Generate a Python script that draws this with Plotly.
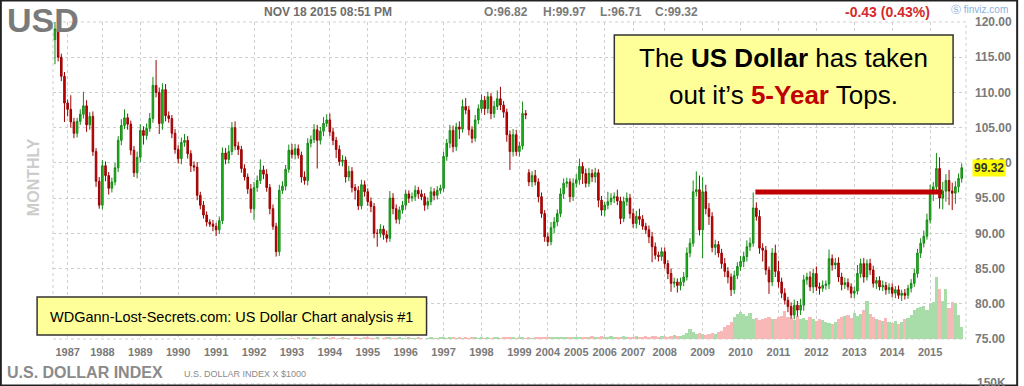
import plotly.graph_objects as go

# ---------------- data ----------------
year_labels = ["1987", "1988", "1989", "1990", "1991", "1992", "1993", "1994", "1995",
               "1996", "1997", "1998", "1999", "2004", "2005", "2006", "2007", "2008",
               "2009", "2010", "2011", "2012", "2013", "2014", "2015"]
year_slots = [4, 15, 27, 39, 51, 63, 75, 87, 99, 111, 123, 135, 147,
              156, 165, 174, 183, 193, 205, 217, 229, 241, 253, 265, 277]

price_ticks = [75, 80, 85, 90, 95, 100, 105, 110, 115, 120]

# segment A: late 1986 .. early 1999 (slots 0-149)
open_a_first = 117.5
close_a = [
    119.0, 115.0, 112.3, 108.5,
    107.6, 105.8, 104.2, 105.9, 106.9, 108.1, 105.4, 106.6, 101.6, 97.4, 94.0,
    99.6, 98.2, 96.4, 97.3, 99.3, 103.2, 105.3, 106.4, 105.5, 101.8, 98.6, 100.8,
    104.6, 103.9, 104.9, 106.3, 111.0, 110.0, 105.6, 110.4, 106.7, 106.3, 104.2, 101.9,
    100.6, 102.9, 103.2, 101.3, 99.6, 99.4, 95.4, 94.0, 92.6, 91.6, 91.3, 91.0,
    90.5, 91.8, 101.4, 100.5, 101.6, 105.0, 102.4, 101.9, 99.2, 98.0, 96.3, 93.5,
    96.5, 97.5, 99.0, 98.4, 96.5, 93.5, 91.0, 87.4, 96.1, 96.7, 99.1, 101.8,
    101.2, 102.0, 101.1, 98.0, 97.5, 102.8, 103.3, 104.7, 103.2, 104.5, 105.6, 106.1,
    104.4, 103.2, 101.9, 100.2, 100.4, 98.0, 98.8, 96.5, 96.1, 93.9, 96.9, 95.9,
    94.5, 93.8, 90.0, 90.0, 90.6, 89.8, 89.3, 95.0, 93.5, 92.0, 93.3, 94.0,
    95.6, 95.0, 95.2, 96.1, 95.6, 95.2, 94.0, 94.5, 95.9, 95.4, 96.1, 96.4,
    100.9, 102.8, 104.6, 102.3, 105.1, 104.8, 108.0, 107.5, 104.7, 103.5, 106.1, 107.7,
    108.9, 107.7, 109.4, 107.0, 108.0, 109.1, 108.2, 107.2, 104.0, 101.6, 104.0, 101.6,
    102.4, 107.0, 106.8,
]
up_a = [
    1.0, 0.8, 0.5, 0.6,
    0.5, 2.0, 0.6, 0.5, 0.7, 2.0, 0.8, 0.6, 0.7, 0.5, 0.6,
    0.8, 0.6, 0.5, 0.6, 0.7, 0.6, 0.9, 1.2, 0.6, 0.5, 0.6, 0.8,
    0.9, 0.6, 0.7, 0.8, 1.2, 3.6, 0.7, 0.9, 0.8, 0.6, 0.5, 0.6,
    0.6, 0.7, 0.9, 0.6, 0.5, 0.6, 0.7, 0.5, 0.6, 0.5, 0.4, 0.6,
    0.5, 0.6, 0.8, 0.7, 0.9, 0.8, 0.9, 0.6, 0.5, 0.6, 0.5, 0.7,
    0.8, 0.7, 1.5, 0.6, 0.7, 0.5, 0.6, 0.5, 0.8, 0.7, 0.6, 0.8,
    0.9, 0.7, 0.6, 0.5, 0.8, 0.7, 0.6, 0.8, 0.7, 0.6, 0.9, 0.8,
    0.9, 0.6, 0.5, 0.6, 0.7, 0.5, 0.8, 0.6, 0.5, 0.6, 0.7, 0.6,
    0.5, 0.6, 0.5, 0.6, 0.7, 0.5, 0.6, 1.0, 0.7, 0.6, 0.5, 0.6,
    0.6, 0.5, 0.6, 0.7, 0.5, 0.6, 0.5, 0.6, 0.7, 0.5, 0.6, 0.5,
    0.7, 0.6, 0.8, 0.7, 0.6, 0.8, 1.0, 1.2, 0.6, 0.5, 0.7, 0.6,
    0.8, 0.6, 0.7, 0.5, 0.8, 1.2, 1.7, 0.6, 0.5, 0.6, 0.8, 0.7,
    0.6, 1.7, 0.5,
]
dn_a = [
    3.5, 0.6, 0.7, 2.7,
    1.0, 0.8, 0.7, 0.6, 0.5, 0.6, 1.0, 0.7, 0.6, 0.8, 0.5,
    0.6, 0.8, 0.9, 0.6, 0.5, 0.6, 0.7, 0.5, 0.8, 0.7, 0.6, 0.8,
    0.7, 1.3, 0.6, 0.5, 0.6, 0.7, 1.5, 0.9, 0.8, 0.6, 0.7, 0.6,
    0.7, 0.8, 0.6, 0.7, 0.9, 0.6, 0.7, 0.6, 0.5, 0.6, 0.4, 0.7,
    0.9, 0.6, 0.5, 0.7, 0.6, 0.5, 0.6, 0.8, 0.6, 0.5, 0.7, 0.6,
    1.6, 0.6, 0.5, 0.7, 0.6, 0.8, 0.5, 0.7, 0.6, 0.5, 0.6, 0.5,
    0.6, 0.7, 0.5, 0.8, 0.6, 0.7, 0.6, 0.5, 4.0, 0.6, 0.7, 0.5,
    0.6, 0.7, 1.2, 0.6, 0.7, 0.8, 0.6, 0.7, 1.3, 0.6, 0.5, 0.7,
    0.6, 0.8, 0.7, 1.9, 0.6, 0.7, 0.6, 0.5, 0.8, 0.6, 0.7, 0.5,
    0.6, 0.7, 0.5, 0.6, 0.7, 0.5, 0.8, 0.6, 0.5, 0.7, 0.6, 0.5,
    0.5, 0.6, 0.7, 0.8, 0.6, 1.4, 0.5, 0.6, 0.8, 0.7, 0.5, 0.6,
    0.6, 0.9, 0.7, 0.8, 0.6, 0.5, 0.7, 0.8, 1.0, 2.6, 0.7, 0.6,
    0.7, 0.5, 0.6,
]

# segment B: 2003 .. Nov 2015 (slots 150-287)
open_b_first = 98.6
close_b = [
    97.3, 98.2, 97.3, 95.2, 92.8, 89.5,
    88.8, 90.8, 91.6, 92.8, 95.6, 97.1, 97.3, 95.2, 97.1,
    97.6, 99.5, 98.5, 97.1, 98.5, 98.0, 98.6, 94.7, 93.3,
    94.0, 94.5, 95.0, 95.2, 94.6, 92.1, 94.5, 95.0, 92.8,
    91.4, 92.4, 92.0, 91.0, 90.5, 89.5, 88.1, 86.9, 86.7, 87.4,
    85.7, 84.3, 82.9, 83.1, 82.6, 83.1, 83.8, 87.2, 88.6, 95.9, 96.2, 90.5,
    95.9, 93.5, 92.4, 88.0, 88.4, 87.2, 85.7, 84.6, 83.8, 82.0, 84.0, 85.3,
    86.0, 86.7, 88.1, 88.6, 93.6, 92.4, 87.9, 87.6, 84.8, 83.1, 87.2, 84.6,
    83.1, 81.5, 80.5, 79.6, 78.4, 79.8, 79.1, 79.8, 83.4, 83.8, 82.4, 84.3,
    82.4, 82.2, 82.6, 82.8, 86.4, 85.5, 85.8, 83.8, 82.7, 83.0, 82.4, 81.5,
    81.8, 84.3, 85.7, 83.8, 85.7, 84.8, 82.9, 83.3, 82.4, 82.6, 82.0, 82.3,
    81.5, 82.0, 81.2, 81.5, 81.2, 82.2, 82.9, 84.3, 87.2, 88.6, 89.6, 91.9,
    96.1, 96.6, 99.2, 95.0, 96.0, 97.5, 96.0, 95.7, 96.6, 97.8, 99.32,
]
up_b = [
    0.5, 0.6, 0.8, 0.5, 0.6, 0.5,
    0.6, 0.8, 0.7, 0.6, 0.8, 0.7, 0.6, 0.5, 0.7,
    0.8, 1.1, 0.6, 0.7, 0.8, 0.6, 0.7, 0.5, 0.6,
    0.5, 1.4, 0.7, 0.6, 1.0, 0.6, 0.7, 0.8, 0.6,
    0.7, 0.8, 1.1, 0.6, 0.5, 0.6, 0.7, 0.6, 0.5, 0.6,
    0.6, 0.5, 0.7, 0.6, 0.5, 0.6, 0.7, 0.8, 0.7, 1.6, 2.6, 2.0,
    2.1, 1.0, 0.8, 0.6, 0.7, 0.5, 0.6, 0.8, 0.6, 0.5, 0.7, 0.6,
    0.8, 0.7, 0.9, 0.8, 2.2, 0.8, 0.9, 0.7, 0.6, 0.5, 0.7, 1.2,
    1.5, 0.6, 0.7, 0.5, 0.6, 0.8, 0.6, 0.9, 0.7, 0.6, 0.8, 0.7,
    1.0, 0.6, 0.7, 0.5, 1.3, 0.6, 0.7, 0.8, 0.6, 0.7, 0.6, 0.5,
    0.6, 1.2, 0.7, 0.8, 0.6, 0.7, 0.6, 0.5, 0.6, 0.7, 0.5, 0.6,
    0.6, 0.5, 0.6, 0.5, 0.6, 0.5, 0.6, 0.7, 0.6, 0.7, 0.8, 0.9,
    0.8, 0.7, 2.2, 1.6, 1.3, 0.9, 1.5, 1.2, 0.8, 0.7, 0.6,
]
dn_b = [
    0.6, 0.7, 0.5, 0.8, 0.6, 0.7,
    0.6, 0.5, 0.8, 0.6, 0.5, 0.7, 0.6, 0.8, 0.6,
    0.6, 0.7, 1.5, 0.6, 0.5, 0.7, 0.8, 1.0, 0.8,
    0.9, 0.6, 0.5, 0.7, 0.6, 0.8, 0.5, 0.6, 0.7,
    0.6, 0.7, 0.8, 0.5, 0.6, 0.9, 2.2, 0.6, 0.7, 0.6,
    0.7, 0.8, 1.2, 0.6, 1.0, 0.7, 0.6, 0.5, 0.6, 0.5, 0.7, 0.8,
    4.0, 0.8, 1.2, 0.7, 1.1, 0.6, 0.7, 0.8, 0.9, 0.9, 0.6, 0.5,
    0.6, 0.8, 0.7, 0.6, 0.5, 0.6, 0.8, 1.6, 0.7, 1.7, 0.6, 0.8,
    0.8, 0.7, 0.6, 0.8, 0.5, 0.6, 0.9, 0.7, 0.8, 0.7, 0.6, 0.9,
    0.6, 0.9, 0.5, 0.6, 0.7, 0.8, 0.6, 0.7, 0.8, 0.6, 0.5, 0.7,
    0.7, 0.5, 0.6, 0.8, 0.5, 0.7, 0.6, 0.8, 0.5, 0.6, 0.7, 0.6,
    0.6, 0.7, 0.5, 0.8, 0.6, 0.5, 0.6, 0.5, 0.6, 0.7, 0.6, 0.5,
    0.5, 1.5, 0.6, 1.5, 1.6, 1.5, 2.0, 2.4, 1.5, 0.8, 0.6,
]

# volume (thousands), slots 0-287
volume = (
    [0] * 4 + [0] * 11 + [0] * 48
    + [0, 0, 0, 0, 0, 0, 0, 0, 2, 0, 2, 0]
    + [2, 0, 3, 0, 2, 2, 0, 3, 2, 0, 2, 3]
    + [2, 3, 0, 2, 3, 2, 2, 0, 3, 2, 2, 3]
    + [3, 2, 2, 3, 0, 2, 3, 4, 2, 2, 3, 2]
    + [2, 3, 2, 2, 3, 2, 0, 2, 3, 2, 2, 3]
    + [3, 2, 3, 4, 2, 3, 2, 3, 2, 3, 4, 2]
    + [3, 2, 3, 2, 4, 3, 2, 3, 4, 5, 3, 2]
    + [3, 4, 2]
    + [3, 2, 3, 4, 3, 4]
    + [4, 3, 5, 4, 3, 4, 5, 4, 3]
    + [5, 4, 3, 5, 4, 6, 4, 5, 6]
    + [4, 5, 6, 4, 5, 4, 6, 5, 4]
    + [5, 6, 4, 5, 6, 5, 6, 7, 5, 6]
    + [6, 5, 7, 8, 6, 7, 8, 12, 20, 14, 10, 12]
    + [10, 8, 10, 12, 10, 14, 16, 24, 28, 34, 44, 50]
    + [54, 50, 46, 52, 40, 42, 38, 40, 42, 44, 40, 40]
    + [44, 46, 56, 44, 42, 38, 46, 40, 42, 38, 44, 40]
    + [36, 40, 38, 34, 32, 30, 34, 40, 44, 46, 48, 42]
    + [52, 46, 50, 58, 76, 50, 44, 40, 38, 36, 42, 34]
    + [32, 36, 30, 34, 40, 42, 48, 58, 62, 64, 66, 58]
    + [70, 74, 124, 100, 76, 100, 62, 74, 72, 48, 24]
)

# ---------------- build OHLC ----------------
def build(first_open, closes, ups, dns):
    o, h, l = [], [], []
    prev = first_open
    for c, u, d in zip(closes, ups, dns):
        o.append(prev)
        h.append(round(max(prev, c) + u, 2))
        l.append(round(min(prev, c) - d, 2))
        prev = c
    return o, h, l

oa, ha, la = build(open_a_first, close_a, up_a, dn_a)
ob, hb, lb = build(open_b_first, close_b, up_b, dn_b)
opens = oa + ob
highs = ha + hb
lows = la + lb
closes = close_a + close_b
slots = list(range(len(closes)))

vol_colors = ["#a8dca8" if c >= o else "#f8b8b8" for o, c in zip(opens, closes)]

# ---------------- geometry helpers (pixel -> paper) ----------------
W, H = 1024, 386
L, R, T, B = 53, 972, 22, 339


def px(x):
    return (x - L) / (R - L)


def py(y):
    return (B - y) / (B - T)


FONT = "Liberation Sans, Arial, sans-serif"
GRID = "#cfcfcf"

fig = go.Figure()

fig.add_trace(go.Bar(
    x=slots, y=volume, yaxis="y", marker=dict(color=vol_colors, line=dict(width=0)),
    width=1.0, hoverinfo="skip", showlegend=False,
))

fig.add_trace(go.Candlestick(
    x=slots, open=opens, high=highs, low=lows, close=closes, yaxis="y2",
    increasing=dict(line=dict(color="#138a13", width=1), fillcolor="#1fbf1f"),
    decreasing=dict(line=dict(color="#9a0000", width=1), fillcolor="#d00000"),
    whiskerwidth=0, showlegend=False,
))

fig.update_layout(
    width=W, height=H,
    margin=dict(l=L, r=W - R, t=T, b=H - B, pad=0),
    paper_bgcolor="white", plot_bgcolor="white",
    font=dict(family=FONT, color="#777777"),
    showlegend=False,
    bargap=0,
    xaxis=dict(
        range=[-0.63, 288.36], rangeslider=dict(visible=False),
        tickmode="array", tickvals=year_slots, ticktext=year_labels, tickangle=0,
        showgrid=True, gridcolor=GRID, griddash="3px,3px", gridwidth=1,
        zeroline=False, showline=False, ticks="",
        tickfont=dict(size=11, color="#7a7a7a", family=FONT, weight="bold"),
        ticklabelstandoff=5,
    ),
    yaxis=dict(range=[0, 634], visible=False, showgrid=False, zeroline=False,
               fixedrange=True),
    yaxis2=dict(
        overlaying="y", side="right", range=[75, 120],
        tickmode="array", tickvals=price_ticks,
        ticktext=["%.2f" % v for v in price_ticks],
        showgrid=True, gridcolor=GRID, griddash="3px,3px", gridwidth=1,
        zeroline=False, showline=False, ticks="",
        tickfont=dict(size=12, color="#7a7a7a", family=FONT, weight="bold"),
        ticklabelstandoff=8,
    ),
)

shapes = []
# dashed frame of the chart area
shapes.append(dict(type="rect", xref="paper", yref="paper", x0=0, x1=1, y0=0, y1=1,
                   line=dict(color=GRID, width=1, dash="3px,3px"), layer="below"))
shapes.append(dict(type="line", xref="paper", yref="paper", x0=0, x1=1,
                   y0=py(384), y1=py(384), line=dict(color=GRID, width=1, dash="3px,3px")))
# 5-year top line
shapes.append(dict(type="line", xref="x", yref="y2", x0=221.7, x1=280.8, y0=95.85, y1=95.85,
                   line=dict(color="#c00000", width=5), layer="above"))
# annotation boxes
shapes.append(dict(type="rect", xref="paper", yref="paper",
                   x0=px(618), x1=px(959), y0=py(124), y1=py(35),
                   fillcolor="#ffff99", line=dict(color="#333333", width=1.5), layer="above"))
shapes.append(dict(type="rect", xref="paper", yref="paper",
                   x0=px(37), x1=px(429), y0=py(335), y1=py(297),
                   fillcolor="#ffff99", line=dict(color="#333333", width=1.5), layer="above"))
# outer frame of the image
shapes.append(dict(type="rect", xref="paper", yref="paper",
                   x0=px(0.5), x1=px(1023.5), y0=py(385.5), y1=py(0.5),
                   line=dict(color="#222222", width=2)))
fig.update_layout(shapes=shapes)


def txt(text, x, y, size, color, xanchor="left", yanchor="middle", bold=False,
        family=FONT, angle=0, bg=None):
    a = dict(text=text, x=px(x), y=py(y), xref="paper", yref="paper",
             xanchor=xanchor, yanchor=yanchor, showarrow=False, textangle=angle,
             font=dict(size=size, color=color, family=family,
                       weight="bold" if bold else "normal"))
    if bg:
        a.update(bgcolor=bg, borderpad=1)
    fig.add_annotation(**a)


txt("USD", 5, 20, 34, "#7a7a7a", bold=True)
txt("NOV 18 2015 08:51 PM", 330, 12, 12, "#6e6e6e", xanchor="center", bold=True)
txt("O:96.82", 485, 12, 12, "#7a7a7a", bold=True)
txt("H:99.97", 544, 12, 12, "#7a7a7a", bold=True)
txt("L:96.71", 602, 12, 12, "#7a7a7a", bold=True)
txt("C:99.32", 657, 12, 12, "#7a7a7a", bold=True)
txt("-0.43 (0.43%)", 893, 12, 14, "#d42a2a", xanchor="center", bold=True)
txt("\u24c8 finviz.com", 955, 9, 10, "#8ab0dd")
txt("99.32", 978, 168, 12, "#333333", bold=True, bg="#ffff00")
txt("MONTHLY", 33, 177, 16, "#cccccc", xanchor="center", bold=True, angle=-90)
txt("U.S. DOLLAR INDEX", 5, 372, 16, "#8a8a8a", bold=True)
txt("U.S. DOLLAR INDEX X $1000", 183, 374, 9, "#8a8a8a")
txt("150K", 981, 383, 12, "#7a7a7a", bold=True)
txt("The <b>US Dollar</b> has taken", 788.5, 58, 26, "#000000", xanchor="center")
txt("out it\u2019s <b><span style='color:#c00000'>5-Year</span></b> Tops.", 788.5, 95, 26,
    "#000000", xanchor="center")
txt("WDGann-Lost-Secrets.com: US Dollar Chart analysis #1", 233, 317, 14.5, "#000000",
    xanchor="center")

fig.write_html("out.html", config={"displayModeBar": False},
               post_script="document.body.style.margin='0';")
